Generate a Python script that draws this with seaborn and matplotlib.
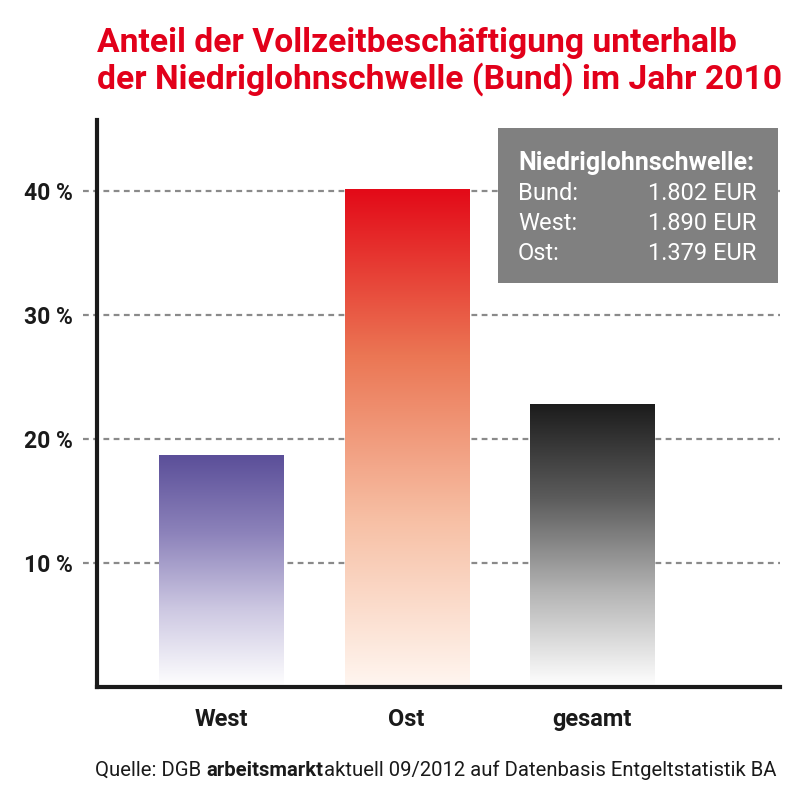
import numpy as np
import matplotlib
matplotlib.use("Agg")
import matplotlib.pyplot as plt
import seaborn as sns
from matplotlib.colors import LinearSegmentedColormap
from matplotlib.patches import Rectangle

# =====================================================
# DATA
# =====================================================

regions = ["West", "Ost", "gesamt"]
shares = [18.7, 40.1, 22.8]
y_ticks = [10, 20, 30, 40]
y_tick_labels = ["10 %", "20 %", "30 %", "40 %"]

box_title = "Niedriglohnschwelle:"
box_names = ["Bund:", "West:", "Ost:"]
box_values = ["1.802 EUR", "1.890 EUR", "1.379 EUR"]

title = "Anteil der Vollzeitbeschäftigung unterhalb\nder Niedriglohnschwelle (Bund) im Jahr 2010"

# =====================================================
# STYLE
# =====================================================

sns.set_style("white")
plt.rcParams["font.family"] = ["Roboto", "DejaVu Sans"]

red = "#e2001a"
gradients = [
    ["#ffffff", "#cdc8e2", "#8c82ba", "#5b4f99"],
    ["#fff6f0", "#f7c0a5", "#eb7654", "#e30a18"],
    ["#ffffff", "#b5b5b5", "#5c5c5c", "#1c1c1c"],
]

fig = plt.figure(figsize=(8, 8.02), dpi=100)
ax = fig.add_axes([0.121, 0.1434, 0.854, 0.7066])

sns.barplot(x=regions, y=shares, ax=ax, width=0.668, color="white")

xlim = (-0.668, 3.01)
ylim = (0, 45.7)

# gradient fill for bars
for patch, stops in zip(ax.patches, gradients):
    patch.set_facecolor("none")
    patch.set_edgecolor("none")
    x0 = patch.get_x()
    w = patch.get_width()
    h = patch.get_height()
    cmap = LinearSegmentedColormap.from_list("g", stops)
    grad = np.linspace(0, 1, 256).reshape(-1, 1)
    ax.imshow(grad, cmap=cmap, origin="lower", aspect="auto",
              extent=[x0, x0 + w, 0, h], zorder=3)

ax.set_xlim(xlim)
ax.set_ylim(ylim)

# dashed grid lines
for t in y_ticks:
    ax.axhline(t, xmin=-0.02, xmax=1, clip_on=False, color="#8a8a8a",
               lw=1.6, ls=(0, (2.6, 2.0)), zorder=1)

ax.set_yticks(y_ticks)
ax.set_yticklabels(y_tick_labels, fontsize=16.5, fontweight="bold", color="#1a1a1a")
ax.tick_params(axis="y", length=0, pad=17)
ax.tick_params(axis="x", length=0, pad=15, labelsize=17)
for lab in ax.get_xticklabels():
    lab.set_fontweight("bold")
    lab.set_color("#1a1a1a")

for side in ["top", "right"]:
    ax.spines[side].set_visible(False)
for side in ["left", "bottom"]:
    ax.spines[side].set_linewidth(3)
    ax.spines[side].set_color("#1a1a1a")
    ax.spines[side].set_zorder(5)

# =====================================================
# TITLE
# =====================================================

fig.text(0.121, 0.966, title, ha="left", va="top", color=red,
         fontsize=24.2, fontweight="bold", linespacing=1.12)

# =====================================================
# INFO BOX
# =====================================================

W, H = 800, 802
box = Rectangle((498 / W, 1 - 283 / H), 280 / W, 155 / H,
                transform=fig.transFigure, facecolor="#808080",
                edgecolor="none", zorder=4)
fig.patches.append(box)

fig.text(518 / W, 1 - 163 / H, box_title, color="white", fontsize=18,
         fontweight="bold", va="center", ha="left", zorder=6)
for i, (n, v) in enumerate(zip(box_names, box_values)):
    yy = 1 - (193 + i * 30.5) / H
    fig.text(518 / W, yy, n, color="white", fontsize=17, va="center",
             ha="left", zorder=6)
    fig.text(756 / W, yy, v, color="white", fontsize=17, va="center",
             ha="right", zorder=6)

# =====================================================
# SOURCE LINE (mixed weights)
# =====================================================

parts = [("Quelle: DGB ", "normal"), ("arbeitsmarkt", "bold"),
         ("aktuell 09/2012 auf Datenbasis Entgeltstatistik BA", "normal")]
fig.canvas.draw()
renderer = fig.canvas.get_renderer()
texts = []
for s, wgt in parts:
    t = fig.text(0, 1 - 770 / H, s, fontsize=14.6, fontweight=wgt,
                 color="#1a1a1a", va="center", ha="left")
    texts.append(t)
widths = [t.get_window_extent(renderer).width for t in texts]
x = 776 - sum(widths)
for t, w in zip(texts, widths):
    t.set_x(x / W)
    x += w

fig.savefig("out.png", dpi=100)
